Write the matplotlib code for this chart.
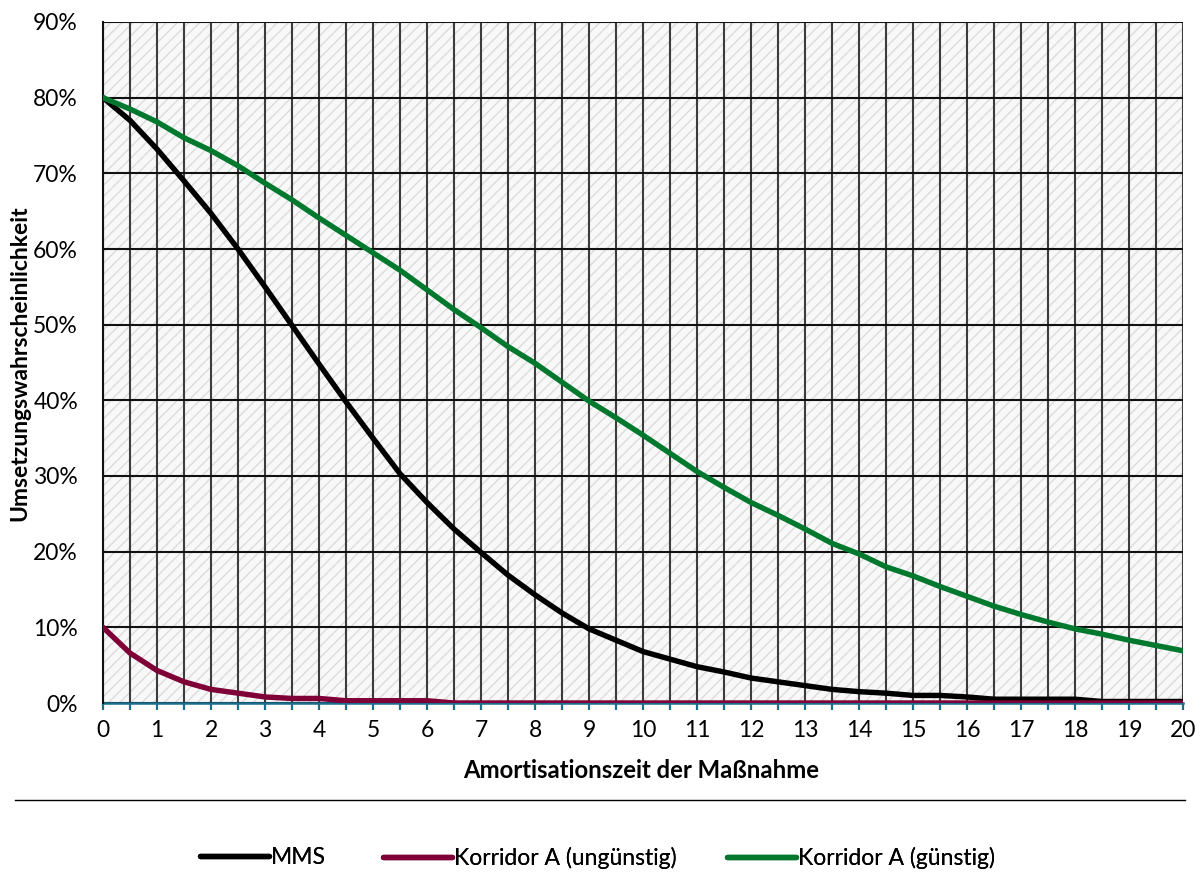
import matplotlib
matplotlib.use("Agg")
import matplotlib.pyplot as plt
from matplotlib.patches import Rectangle
from matplotlib.lines import Line2D
from matplotlib.ticker import FuncFormatter, MultipleLocator

plt.rcParams['font.family'] = ['Lato', 'DejaVu Sans']
plt.rcParams['hatch.linewidth'] = 1.0

years = [0, 0.5, 1, 1.5, 2, 2.5, 3, 3.5, 4, 4.5, 5, 5.5, 6, 6.5, 7, 7.5, 8, 8.5, 9, 9.5,
         10, 10.5, 11, 11.5, 12, 12.5, 13, 13.5, 14, 14.5, 15, 15.5, 16, 16.5, 17, 17.5,
         18, 18.5, 19, 19.5, 20]

mms = [80, 77.0, 73.2, 69.0, 64.7, 60.0, 55.0, 49.9, 44.8, 39.8, 35.0, 30.3, 26.5, 23.0,
       19.9, 16.9, 14.3, 11.9, 9.8, 8.3, 6.8, 5.8, 4.8, 4.1, 3.3, 2.8, 2.3, 1.8, 1.5, 1.3,
       1.0, 1.0, 0.8, 0.5, 0.5, 0.5, 0.5, 0.2, 0.2, 0.2, 0.2]

ungunstig = [10, 6.6, 4.3, 2.8, 1.8, 1.3, 0.8, 0.6, 0.6, 0.3, 0.3, 0.3, 0.3, 0, 0, 0, 0,
             0, 0, 0, 0, 0, 0, 0, 0, 0, 0, 0, 0, 0, 0, 0, 0, 0, 0, 0, 0, 0, 0, 0, 0]

gunstig = [80, 78.5, 76.8, 74.7, 73.0, 71.0, 68.7, 66.5, 64.1, 61.8, 59.5, 57.2, 54.6, 52.0,
           49.6, 47.1, 44.9, 42.4, 39.9, 37.7, 35.4, 33.0, 30.6, 28.5, 26.5, 24.8, 23.0,
           21.1, 19.7, 18.0, 16.8, 15.4, 14.1, 12.8, 11.7, 10.7, 9.8, 9.1, 8.3, 7.6, 6.9]

series_names = ["MMS", "Korridor A (ungünstig)", "Korridor A (günstig)"]
series_colors = ["#000000", "#7F0037", "#00782D"]

W, H = 1201, 876
fig = plt.figure(figsize=(W / 100, H / 100), dpi=100)
ax = fig.add_axes([103 / W, 1 - 703 / H, (1183 - 103) / W, (703 - 22) / H])

# hatched background
ax.patch.set_facecolor('#f8f8f8')
bg = Rectangle((0, 0), 1, 1, transform=ax.transAxes, facecolor='#f8f8f8',
               edgecolor='#dcdcdc', hatch='///', linewidth=0, zorder=0)
ax.add_patch(bg)

ax.set_xlim(0, 20)
ax.set_ylim(0, 90)

ax.xaxis.set_major_locator(MultipleLocator(1))
ax.xaxis.set_minor_locator(MultipleLocator(0.5))
ax.yaxis.set_major_locator(MultipleLocator(10))
ax.grid(True, which='both', axis='x', color='#3c3c3c', linewidth=1.5, zorder=1)
ax.grid(True, which='major', axis='y', color='#111111', linewidth=1.5, zorder=1)
ax.set_axisbelow(True)

lines = []
for name, vals, col in zip(series_names, [mms, ungunstig, gunstig], series_colors):
    ln, = ax.plot(years, vals, color=col, linewidth=3.9, label=name, zorder=3,
                  solid_capstyle='round', solid_joinstyle='round')
    lines.append(ln)

for s in ['top', 'right']:
    ax.spines[s].set_visible(False)
ax.spines['left'].set_color('#111111')
ax.spines['left'].set_linewidth(1.5)
ax.spines['bottom'].set_color('#1B6E8E')
ax.spines['bottom'].set_linewidth(1.8)
ax.spines['bottom'].set_zorder(2)

ax.tick_params(axis='x', which='both', direction='out', length=5, width=1.6,
               color='#1B6E8E', labelsize=16.5, pad=7)
ax.tick_params(axis='y', which='both', length=0, labelsize=16.5, pad=18)
ax.yaxis.set_major_formatter(FuncFormatter(lambda v, p: f"{v:.0f}%"))
ax.xaxis.set_major_formatter(FuncFormatter(lambda v, p: f"{v:.0f}"))

# axis titles placed as figure text, sized to the reference footprint
xl = fig.text(641 / W, 1 - 771 / H, "Amortisationszeit der Maßnahme", ha='center',
              va='center', fontweight='bold', fontsize=16)
yl = fig.text(20 / W, 1 - 363 / H, "Umsetzungswahrscheinlichkeit", ha='center',
              va='center', rotation=90, fontweight='bold', fontsize=16)
renderer = fig.canvas.get_renderer()
for t, target, dim in [(xl, 357, 'w'), (yl, 318, 'h')]:
    bb = t.get_window_extent(renderer)
    cur = bb.width if dim == 'w' else bb.height
    t.set_fontsize(t.get_fontsize() * target / cur)

# separator line
fig.add_artist(Line2D([15 / W, 1185 / W], [1 - 800 / H, 1 - 800 / H], color='#000000',
                      linewidth=1.0, transform=fig.transFigure))

# legend entries at reference positions
leg_x = [200, 383, 727]
for ln, name, x0 in zip(lines, series_names, leg_x):
    lg = fig.legend([ln], [name], loc='center left', bbox_to_anchor=(x0 / W, 1 - 858 / H),
                    frameon=False, fontsize=16.5, handlelength=3.0, handletextpad=0.1,
                    borderpad=0, borderaxespad=0)
    fig.add_artist(lg)

fig.savefig("out.png", dpi=100)
